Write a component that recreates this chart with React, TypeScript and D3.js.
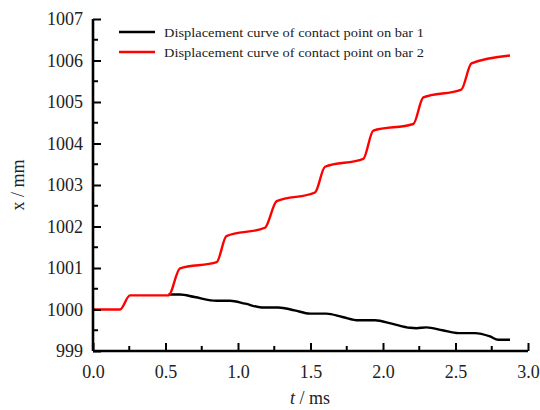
import React, { useEffect, useRef } from 'react';
import * as d3 from 'd3';

// displacement of contact point on bar 1 (black)
const tBar1 = [0.52, 0.6, 0.7, 0.853, 0.945, 1.05, 1.163, 1.278, 1.39, 1.497, 1.61, 1.72, 1.83, 1.945, 2.06, 2.186, 2.23, 2.30, 2.41, 2.52, 2.634, 2.738, 2.795, 2.876];
const xBar1 = [1000.36, 1000.36, 1000.3, 1000.21, 1000.21, 1000.14, 1000.05, 1000.05, 999.98, 999.9, 999.9, 999.82, 999.74, 999.74, 999.66, 999.56, 999.55, 999.57, 999.5, 999.43, 999.43, 999.35, 999.27, 999.27];

// displacement of contact point on bar 2 (red)
const tBar2 = [0, 0.186, 0.255, 0.52, 0.6, 0.853, 0.92, 1.186, 1.267, 1.531, 1.6, 1.864, 1.933, 2.209, 2.278, 2.54, 2.61, 2.876];
const xBar2 = [1000.0, 1000.0, 1000.34, 1000.34, 1000.99, 1001.14, 1001.77, 1001.97, 1002.61, 1002.82, 1003.44, 1003.63, 1004.31, 1004.47, 1005.11, 1005.3, 1005.93, 1006.12];

const xTicks = [0, 0.5, 1.0, 1.5, 2.0, 2.5, 3.0];
const yTicks = [999, 1000, 1001, 1002, 1003, 1004, 1005, 1006, 1007];
const legendLabels = ['Displacement curve of contact point on bar 1', 'Displacement curve of contact point on bar 2'];

const App = () => {
  const svgRef = useRef<SVGSVGElement>(null);

  useEffect(() => {
    const svg = d3.select(svgRef.current);
    svg.selectAll('*').remove();
    const font = '"Liberation Serif", "Times New Roman", serif';

    const x = d3.scaleLinear().domain([0, 3]).range([93, 528]);
    const y = d3.scaleLinear().domain([999, 1007]).range([351, 19]);

    const line = d3.line<[number, number]>()
      .x(d => x(d[0]))
      .y(d => y(d[1]))
      .curve(d3.curveMonotoneX);

    const s1 = tBar1.map((t, i) => [t, xBar1[i]] as [number, number]);
    const s2 = tBar2.map((t, i) => [t, xBar2[i]] as [number, number]);

    svg.append('path').attr('d', line(s1)).attr('fill', 'none')
      .attr('stroke', '#000').attr('stroke-width', 2.4);
    svg.append('path').attr('d', line(s2)).attr('fill', 'none')
      .attr('stroke', '#ff0000').attr('stroke-width', 2.4);

    // minor ticks
    const xMinor = d3.range(0.25, 3, 0.5);
    const yMinor = d3.range(999.5, 1007, 1);
    svg.append('g').selectAll('line').data(xMinor).enter().append('line')
      .attr('x1', d => x(d)).attr('x2', d => x(d))
      .attr('y1', 351).attr('y2', 346)
      .attr('stroke', '#000').attr('stroke-width', 2);
    svg.append('g').selectAll('line').data(yMinor).enter().append('line')
      .attr('y1', d => y(d)).attr('y2', d => y(d))
      .attr('x1', 93).attr('x2', 98)
      .attr('stroke', '#000').attr('stroke-width', 2);

    const xAxis = svg.append('g').attr('transform', 'translate(0,351)')
      .call(d3.axisBottom(x).tickValues(xTicks).tickSize(-8).tickPadding(14).tickFormat(d3.format('.1f')));
    const yAxis = svg.append('g').attr('transform', 'translate(93,0)')
      .call(d3.axisLeft(y).tickValues(yTicks).tickSize(-8).tickPadding(10).tickFormat(d3.format('d')));

    [xAxis, yAxis].forEach(a => {
      a.attr('font-family', font).attr('font-size', 18);
      a.select('.domain').attr('stroke', '#000').attr('stroke-width', 2.6);
      a.selectAll('.tick line').attr('stroke', '#000').attr('stroke-width', 2);
      a.selectAll('.tick text').attr('font-family', font).attr('font-size', 18).attr('fill', '#222');
    });
    xAxis.select('.domain').attr('d', 'M93,0H528');
    yAxis.select('.domain').attr('d', 'M0,351V19');

    // axis titles
    const xt = svg.append('text').attr('x', 310).attr('y', 404).attr('text-anchor', 'middle')
      .attr('font-family', font).attr('font-size', 18).attr('fill', '#222');
    xt.append('tspan').attr('font-style', 'italic').text('t');
    xt.append('tspan').text(' / ms');

    svg.append('text').attr('transform', 'translate(24,185) rotate(-90)').attr('text-anchor', 'middle')
      .attr('font-family', font).attr('font-size', 18).attr('fill', '#222').text('x / mm');

    // legend
    const colors = ['#000', '#ff0000'];
    legendLabels.forEach((lab, i) => {
      const ly = 32 + i * 20;
      svg.append('line').attr('x1', 119).attr('x2', 155).attr('y1', ly).attr('y2', ly)
        .attr('stroke', colors[i]).attr('stroke-width', 2.4);
      svg.append('text').attr('x', 164).attr('y', ly + 4.5)
        .attr('font-family', font).attr('font-size', 13.5).attr('fill', '#222')
        .attr('textLength', 260).attr('lengthAdjust', 'spacingAndGlyphs').text(lab);
    });
  }, []);

  return (
    <svg ref={svgRef} width={540} height={410} style={{ position: 'absolute', left: 0, top: 0, background: '#fff' }}></svg>
  );
};

export default App;
